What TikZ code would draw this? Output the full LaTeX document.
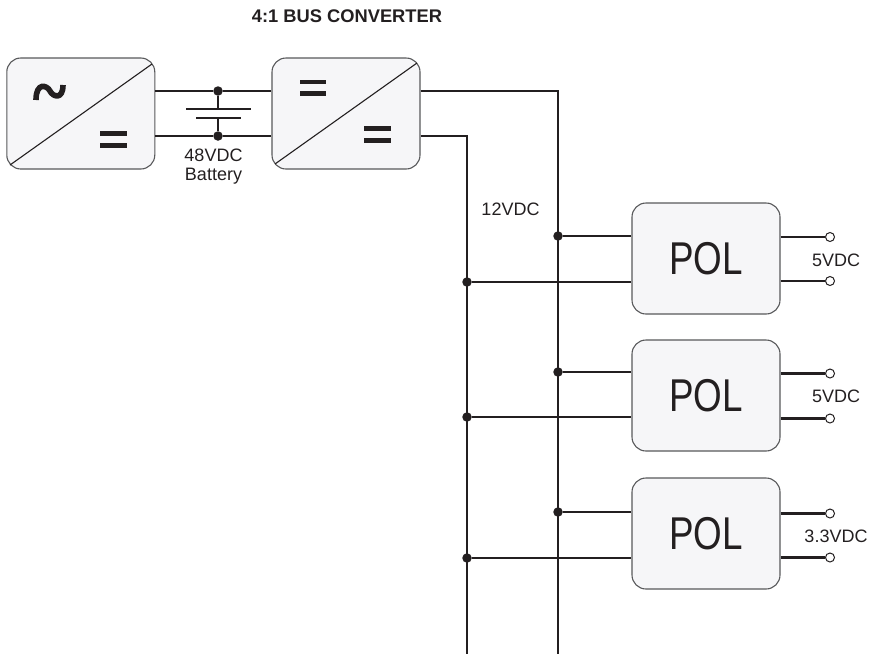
\documentclass[tikz,border=0pt]{standalone}
\usepackage{fontspec}
\setmainfont{Liberation Sans}
\definecolor{ink}{HTML}{231F20}
\definecolor{boxfill}{HTML}{F6F6F8}
\definecolor{boxline}{HTML}{58595B}
\tikzset{
  conv/.style={draw=boxline,fill=boxfill,line width=1.1pt,rounded corners=14pt,minimum width=148pt,minimum height=111pt,inner sep=0pt,text=ink},
  wire/.style={draw=ink,line width=2.2pt},
  thinwire/.style={draw=ink,line width=1.1pt},
  dot/.style={circle,fill=ink,inner sep=0pt,minimum size=9.5pt},
  term/.style={circle,draw=ink,fill=white,line width=1pt,inner sep=0pt,minimum size=9pt},
  lab/.style={text=ink,font=\fontsize{18}{20}\selectfont,inner sep=0pt,align=center,anchor=base},
  bar/.style={fill=ink,draw=none}
}
\newcommand{\polname}{\fontsize{46}{46}\selectfont\scalebox{.8}[1]{POL}}
\begin{document}
\begin{tikzpicture}[x=1pt,y=-1pt]
\useasboundingbox (0,0) rectangle (870,654);
\node[lab,font=\fontsize{18.3}{20}\bfseries\selectfont] (title) at (347,22.5) {4:1 BUS CONVERTER};
% boxes
\node[conv] (b1) at (80.8,113.5) {};
\node[conv] (b2) at (346,113.5) {};
\node[conv] (p1) at (706,258.5) {\polname};
\node[conv] (p2) at (706,395.5) {\polname};
\node[conv] (p3) at (706,533.5) {\polname};
% diagonals
\coordinate (d1a) at (152,64); \coordinate (d1b) at (10,165);
\coordinate (d2a) at (417,63); \coordinate (d2b) at (275,164);
\draw[thinwire] (d1a) -- (d1b);
\draw[thinwire] (d2a) -- (d2b);
% symbols
\draw[draw=ink,line width=5.6pt] (36,100) .. controls (36,82) and (47,85) .. (50,91) .. controls (53,97) and (63,100) .. (63,85);
\fill[bar] (100,131) rectangle (127,136);
\fill[bar] (100,143) rectangle (127,147.5);
\fill[bar] (300,79.5) rectangle (326,84);
\fill[bar] (300,91) rectangle (326,96);
\fill[bar] (364,126) rectangle (391,131);
\fill[bar] (364,138) rectangle (391,143);
% battery
\node[dot] (ja) at (218,91) {};
\node[dot] (jb) at (218,136) {};
\coordinate (plA) at (218,109);
\coordinate (plB) at (218,118);
\coordinate (plAl) at (186,109); \coordinate (plAr) at (250.5,109);
\coordinate (plBl) at (196,118); \coordinate (plBr) at (240.5,118);
\draw[wire] (b1.east |- ja) -- (ja) -- (b2.west |- ja);
\draw[wire] (b1.east |- jb) -- (jb) -- (b2.west |- jb);
\draw[wire] (ja) -- (plA);
\draw[wire] (jb) -- (plB);
\draw[wire] (plAl) -- (plAr);
\draw[wire] (plBl) -- (plBr);
% bus
\coordinate (busA) at (558,91);
\coordinate (busB) at (467,136);
\coordinate (footA) at (558,654);
\coordinate (footB) at (467,654);
\draw[wire,line join=miter] (b2.east |- busA) -- (busA) -- (footA);
\draw[wire,line join=miter] (b2.east |- busB) -- (busB) -- (footB);
% junctions and POL inputs
\node[dot] (a1) at (558,236) {};
\node[dot] (a2) at (558,372) {};
\node[dot] (a3) at (558,512) {};
\node[dot] (c1) at (467,282) {};
\node[dot] (c2) at (467,417) {};
\node[dot] (c3) at (467,558) {};
\draw[wire] (a1) -- (p1.west |- a1);
\draw[wire] (a2) -- (p2.west |- a2);
\draw[wire] (a3) -- (p3.west |- a3);
\draw[wire] (c1) -- (p1.west |- c1);
\draw[wire] (c2) -- (p2.west |- c2);
\draw[wire] (c3) -- (p3.west |- c3);
% outputs
\node[term] (t1a) at (830,237) {};
\node[term] (t1b) at (830,281) {};
\node[term] (t2a) at (830,373.5) {};
\node[term] (t2b) at (830,418.5) {};
\node[term] (t3a) at (830,513.5) {};
\node[term] (t3b) at (830,557.5) {};
\draw[wire] (p1.east |- t1a) -- (t1a);
\draw[wire] (p1.east |- t1b) -- (t1b);
\draw[wire] (p2.east |- t2a) -- (t2a);
\draw[wire] (p2.east |- t2b) -- (t2b);
\draw[wire] (p3.east |- t3a) -- (t3a);
\draw[wire] (p3.east |- t3b) -- (t3b);
% labels
\node[lab] (l48) at (213.5,161.7) {48VDC};
\node[lab] (lbat) at (213.5,180) {Battery};
\node[lab] (l12) at (510.5,215) {12VDC};
\node[lab] (l5a) at (836,266.5) {5VDC};
\node[lab] (l5b) at (836,402) {5VDC};
\node[lab] (l33) at (836,542.5) {3.3VDC};
\end{tikzpicture}
\end{document}
